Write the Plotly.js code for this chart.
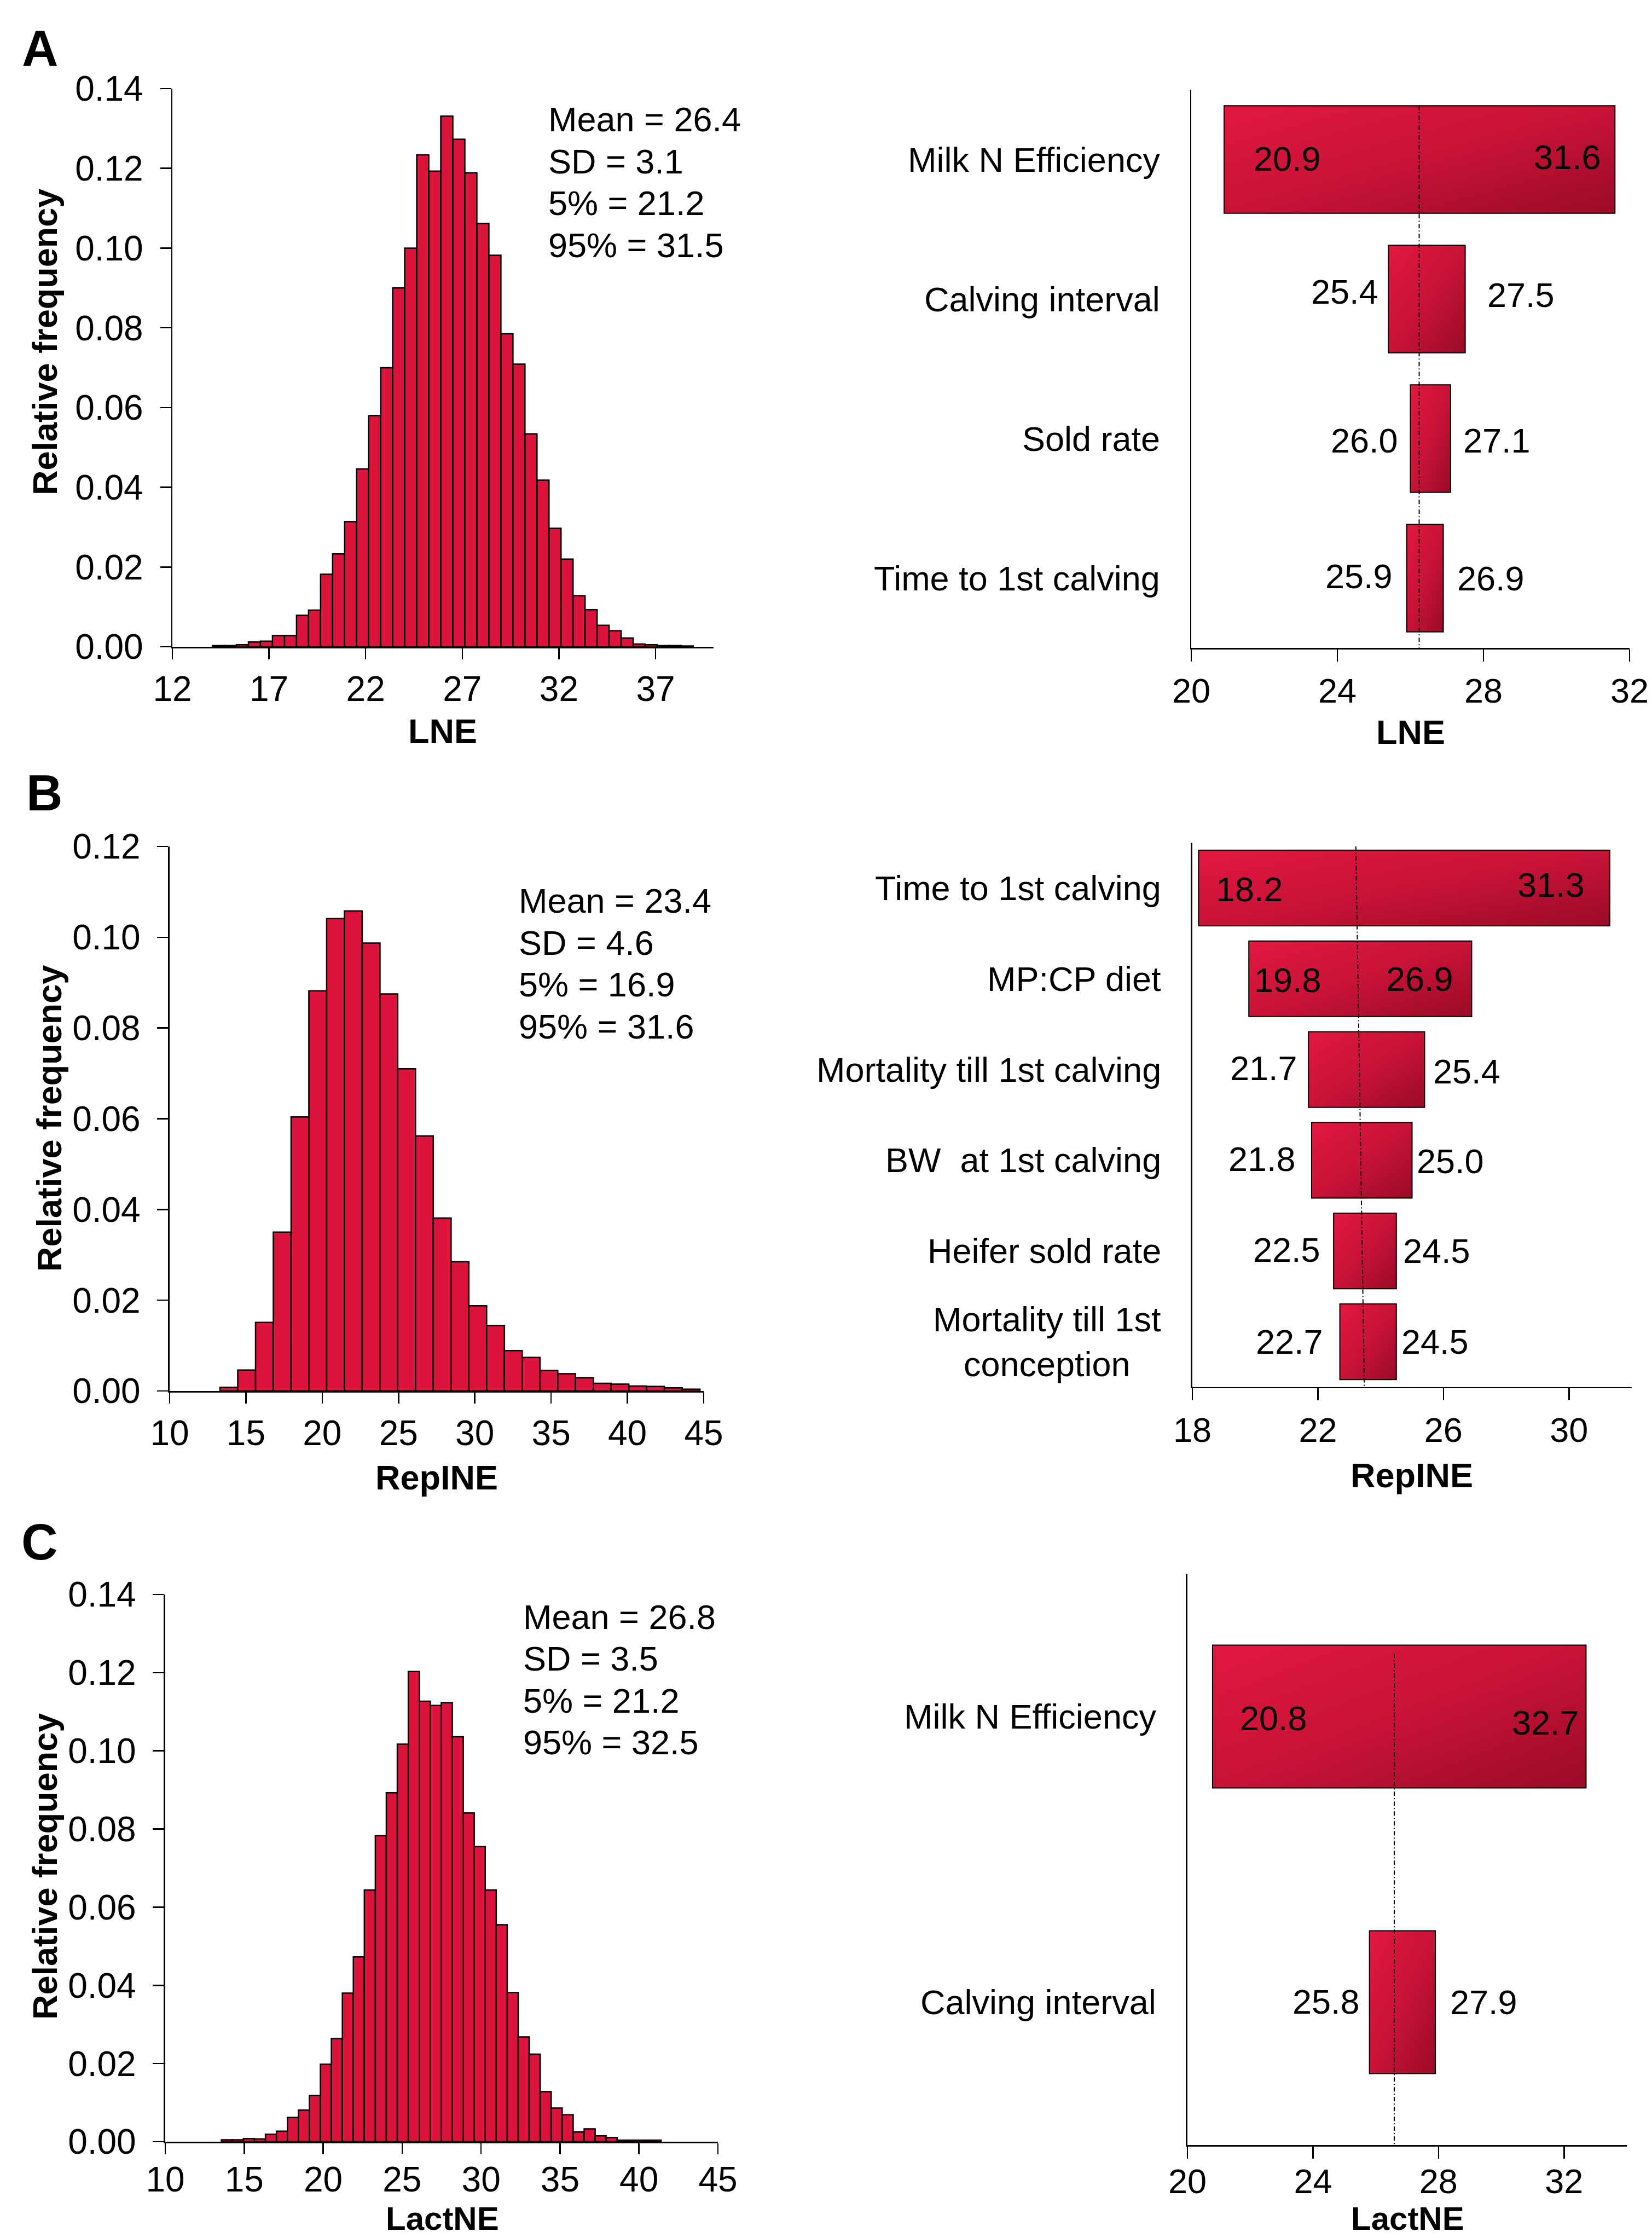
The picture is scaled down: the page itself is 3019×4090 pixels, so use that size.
<!DOCTYPE html>
<html><head><meta charset="utf-8">
<script src="https://cdn.plot.ly/plotly-3.0.1.min.js"></script>
<style>html,body{margin:0;padding:0;background:#fff}</style>
</head><body>
<div id="chart" style="width:3019px;height:4090px"></div>
<script>
// ---------- DATA ----------
// Histogram A (LNE)
const binStartA = 14.07, binWidthA = 0.622;
const freqA = [0.0003,0.0003,0.0005,0.0012,0.0014,0.0028,0.0028,0.0079,0.0092,0.0182,
               0.0233,0.0314,0.0446,0.058,0.070,0.090,0.100,0.1234,0.1193,0.1331,
               0.1273,0.1189,0.1062,0.0982,0.0785,0.0709,0.0534,0.0418,0.0297,0.0220,
               0.0128,0.0093,0.0054,0.0040,0.0022,0.0007,0.0005,0.0003,0.0003,0.0002];
const statsA = ["Mean = 26.4","SD = 3.1","5% = 21.2","95% = 31.5"];
const histTicksA = [12,17,22,27,32,37];

// Histogram B (RepINE)
const binStartB = 13.3, binWidthB = 1.165;
const freqB = [0.0008,0.0046,0.0151,0.0350,0.0604,0.0882,0.1041,0.1058,0.0987,0.0875,
               0.0710,0.0562,0.0381,0.0285,0.0188,0.0144,0.0089,0.0074,0.0045,0.0038,
               0.0029,0.0017,0.0015,0.0011,0.0010,0.0007,0.0004];
const statsB = ["Mean = 23.4","SD = 4.6","5% = 16.9","95% = 31.6"];
const histTicksB = [10,15,20,25,30,35,40,45];

// Histogram C (LactNE)
const binStartC = 13.56, binWidthC = 0.696;
const freqC = [0.0005,0.0005,0.0008,0.0007,0.0019,0.0027,0.0062,0.0081,0.0118,0.0198,
               0.0264,0.0380,0.0473,0.0644,0.0783,0.0893,0.1017,0.1203,0.1127,0.1116,
               0.1123,0.1036,0.0841,0.0755,0.0644,0.0555,0.0382,0.0268,0.0224,0.0128,
               0.0086,0.0069,0.0025,0.0033,0.0015,0.0011,0.0004,0.0004,0.0004,0.0004];
const statsC = ["Mean = 26.8","SD = 3.5","5% = 21.2","95% = 32.5"];
const histTicksC = [10,15,20,25,30,35,40,45];

// Tornado A (LNE)
const factorsA = ["Milk N Efficiency","Calving interval","Sold rate","Time to 1st calving"];
const lowA  = [20.9, 25.4, 26.0, 25.9];
const highA = [31.6, 27.5, 27.1, 26.9];
const baseA = 26.24;
const torTicksA = [20,24,28,32];

// Tornado B (RepINE)
const factorsB = ["Time to 1st calving","MP:CP diet","Mortality till 1st calving","BW\u00a0 at 1st calving","Heifer sold rate","Mortality till 1st<br>conception"];
const lowB  = [18.2, 19.8, 21.7, 21.8, 22.5, 22.7];
const highB = [31.3, 26.9, 25.4, 25.0, 24.5, 24.5];
const baseBTop = 23.21, baseBBottom = 23.48;
const torTicksB = [18,22,26,30];

// Tornado C (LactNE)
const factorsC = ["Milk N Efficiency","Calving interval"];
const lowC  = [20.8, 25.8];
const highC = [32.7, 27.9];
const baseC = 26.59;
const torTicksC = [20,24,28,32];

// ---------- STYLE ----------
const FONT = "Liberation Sans, Arial, Helvetica, sans-serif";
const HIST_COLOR = "#DC143C";
// value-label offsets in px (positive low shift / negative high shift = label inside the bar)
const labelStyle = {
  A: {lowX:[52,-16,-21,-24], highX:[-23,38,21,23], lowY:[2,14,-3,4], highY:[5,8,-3,0]},
  B: {lowX:[30,8,-18,-27,-22,-29], highX:[-44,-31,14,7,10,7], lowY:[-2,-2,3,2,2,0], highY:[6,0,-3,-2,0,0]},
  C: {lowX:[48,-16], highX:[-10,25], lowY:[-3,1], highY:[-11,0]}
};

const AX = {showline:true, linecolor:"#000", linewidth:2.5, ticks:"outside", ticklen:20,
            tickwidth:2.5, tickcolor:"#000", showgrid:false, zeroline:false,
            tickfont:{family:FONT, size:64, color:"#000"}, fixedrange:true};

function centers(start, w, n){ const a=[]; for(let i=0;i<n;i++) a.push(start + w*(i+0.5)); return a; }
function idx(n){ const a=[]; for(let i=0;i<n;i++) a.push(i); return a; }

function histTrace(start, w, freq, xa, ya){
  return {type:"bar", x:centers(start,w,freq.length), y:freq, width:w,
          xaxis:xa, yaxis:ya, marker:{color:HIST_COLOR, line:{color:"#000", width:2.5}},
          hoverinfo:"skip", showlegend:false};
}
function torTrace(low, high, barW, xa, ya){
  return {type:"bar", orientation:"h", base:low, x:high.map((h,i)=>h-low[i]), y:idx(low.length),
          width:barW, xaxis:xa, yaxis:ya,
          marker:{color:"#C41235", line:{color:"#000", width:2}},
          hoverinfo:"skip", showlegend:false};
}

const data = [
  histTrace(binStartA, binWidthA, freqA, "x", "y"),
  torTrace(lowA, highA, 0.77, "x2", "y2"),
  histTrace(binStartB, binWidthB, freqB, "x3", "y3"),
  torTrace(lowB, highB, 0.833, "x4", "y4"),
  histTrace(binStartC, binWidthC, freqC, "x5", "y5"),
  torTrace(lowC, highC, 0.5, "x6", "y6")
];

const ann = [];
function txt(o){ ann.push(Object.assign({showarrow:false, xanchor:"center", yanchor:"middle",
  font:{family:FONT, size:63, color:"#000"}}, o)); }
function px(xp, yp){ return {xref:"paper", yref:"paper", x:xp/3019, y:1-yp/4090}; }

const letterFont = {family:FONT, size:92, weight:"bold", color:"#000"};
txt(Object.assign(px(73, 88), {text:"A", font:letterFont}));
txt(Object.assign(px(81, 1449), {text:"B", font:letterFont}));
txt(Object.assign(px(72, 2818), {text:"C", font:letterFont}));

const bold = {family:FONT, size:63, weight:"bold", color:"#000"};
const boldSmall = {family:FONT, size:60, weight:"bold", color:"#000"};
txt(Object.assign(px(82, 625), {text:"Relative frequency", textangle:-90, font:bold}));
txt(Object.assign(px(90, 2044), {text:"Relative frequency", textangle:-90, font:bold}));
txt(Object.assign(px(82, 3411), {text:"Relative frequency", textangle:-90, font:bold}));
txt(Object.assign(px(809, 1336), {text:"LNE", font:bold}));
txt(Object.assign(px(798, 2700), {text:"RepINE", font:bold}));
txt(Object.assign(px(808, 4090), {text:"LactNE", font:boldSmall, yanchor:"bottom"}));
txt(Object.assign(px(2578, 1338), {text:"LNE", font:bold}));
txt(Object.assign(px(2580, 2696), {text:"RepINE", font:bold}));
txt(Object.assign(px(2572, 4090), {text:"LactNE", font:boldSmall, yanchor:"bottom"}));

function stats(lines, xa, ya, xf, yTop, step){
  lines.forEach((s,i)=>txt({text:s, xref:xa+" domain", yref:ya+" domain", x:xf, y:yTop - i*step, xanchor:"left", yanchor:"middle"}));
}
stats(statsA, "x", "y", 0.693, 0.945, 0.0751);
stats(statsB, "x3", "y3", 0.652, 0.9005, 0.0769);
stats(statsC, "x5", "y5", 0.6455, 0.959, 0.0763);

function tornadoLabels(factors, low, high, xa, ya, st){
  factors.forEach((f,i)=>{
    txt({text:f, xref:xa+" domain", yref:ya, x:0, y:i, xanchor:"right", xshift:-55, align:"center"});
    const ls = st.lowX[i], hs = st.highX[i];
    txt({text:low[i].toFixed(1), xref:xa, yref:ya, x:low[i], y:i,
         xanchor: ls > 0 ? "left" : "right", xshift: ls, yshift: st.lowY[i]});
    txt({text:high[i].toFixed(1), xref:xa, yref:ya, x:high[i], y:i,
         xanchor: hs < 0 ? "right" : "left", xshift: hs, yshift: st.highY[i]});
  });
}
tornadoLabels(factorsA, lowA, highA, "x2", "y2", labelStyle.A);
tornadoLabels(factorsB, lowB, highB, "x4", "y4", labelStyle.B);
tornadoLabels(factorsC, lowC, highC, "x6", "y6", labelStyle.C);

const meanLine = {color:"#000", width:2, dash:"8px,4px,2px,4px"};
const shapes = [
  {type:"line", xref:"x2", yref:"y2", x0:baseA, x1:baseA, y0:-0.385, y1:3.5, line:meanLine},
  {type:"line", xref:"x4", yref:"y4", x0:baseBTop, x1:baseBBottom, y0:-0.46, y1:5.5, line:meanLine},
  {type:"line", xref:"x6", yref:"y6", x0:baseC, x1:baseC, y0:-0.22, y1:1.5, line:meanLine}
];

const histY = Object.assign({}, AX, {ticklabelstandoff:18});
const torX = Object.assign({}, AX, {ticklen:22, tickfont:{family:FONT,size:63,color:"#000"}});
const torY = {showline:true, linecolor:"#000", linewidth:2.5, ticks:"", showticklabels:false,
              showgrid:false, zeroline:false, fixedrange:true};

const layout = {
  width:3019, height:4090, autosize:false,
  margin:{l:0,r:0,t:0,b:0,pad:0},
  paper_bgcolor:"#fff", plot_bgcolor:"rgba(0,0,0,0)",
  font:{family:FONT, color:"#000"},
  barmode:"overlay", showlegend:false,
  xaxis: Object.assign({}, AX, {domain:[0.10434,0.43193], anchor:"y", range:[12,40], tickvals:histTicksA}),
  yaxis: Object.assign({}, histY, {domain:[0.71100,0.96039], anchor:"x", range:[0,0.14], dtick:0.02, tick0:0, tickformat:".2f"}),
  xaxis2: Object.assign({}, torX, {domain:[0.72110,0.98642], anchor:"y2", range:[20,32], tickvals:torTicksA}),
  yaxis2: Object.assign({}, torY, {domain:[0.71051,0.95990], anchor:"x2", range:[3.5,-0.5]}),
  xaxis3: Object.assign({}, AX, {domain:[0.10268,0.42597], anchor:"y3", range:[10,45], tickvals:histTicksB}),
  yaxis3: Object.assign({}, histY, {domain:[0.37848,0.62176], anchor:"x3", range:[0,0.12], dtick:0.02, tick0:0, tickformat:".2f"}),
  xaxis4: Object.assign({}, torX, {domain:[0.72176,0.98774], anchor:"y4", range:[18,32], tickvals:torTicksB}),
  yaxis4: Object.assign({}, torY, {domain:[0.38020,0.62347], anchor:"x4", range:[5.5,-0.5]}),
  xaxis5: Object.assign({}, AX, {domain:[0.10003,0.43458], anchor:"y5", range:[10,45], tickvals:histTicksC, ticklabelstandoff:-8}),
  yaxis5: Object.assign({}, histY, {domain:[0.04303,0.28753], anchor:"x5", range:[0,0.14], dtick:0.02, tick0:0, tickformat:".2f"}),
  xaxis6: Object.assign({}, torX, {domain:[0.71878,0.98476], anchor:"y6", range:[20,34], tickvals:torTicksC, ticklabelstandoff:-12}),
  yaxis6: Object.assign({}, torY, {domain:[0.04156,0.29682], anchor:"x6", range:[1.5,-0.5]}),
  annotations: ann,
  shapes: shapes
};

Plotly.newPlot("chart", data, layout, {staticPlot:true, displayModeBar:false}).then(gd=>{
  const ns = "http://www.w3.org/2000/svg";
  const svg = gd.querySelector("svg.main-svg");
  let defs = svg.querySelector("defs");
  if(!defs){ defs = document.createElementNS(ns,"defs"); svg.insertBefore(defs, svg.firstChild); }
  const lg = document.createElementNS(ns,"linearGradient");
  lg.setAttribute("id","tornadoGrad");
  lg.setAttribute("x1","0"); lg.setAttribute("y1","0"); lg.setAttribute("x2","1"); lg.setAttribute("y2","1");
  [["0","#E2183F"],["0.5","#C81337"],["1","#9A0B27"]].forEach(([o,c])=>{
    const s = document.createElementNS(ns,"stop"); s.setAttribute("offset",o); s.setAttribute("stop-color",c); lg.appendChild(s);
  });
  defs.appendChild(lg);
  ["x2y2","x4y4","x6y6"].forEach(sp=>{
    gd.querySelectorAll(".subplot."+sp+" .barlayer path").forEach(p=>{ p.style.fill = "url(#tornadoGrad)"; });
  });
});
</script>
</body></html>
